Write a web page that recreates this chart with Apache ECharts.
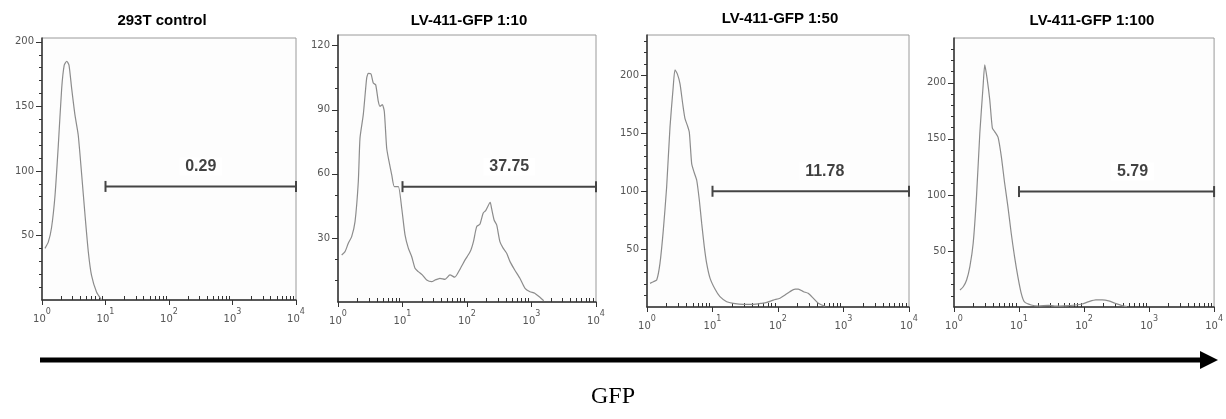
<!DOCTYPE html>
<html><head><meta charset="utf-8">
<script src="https://cdn.jsdelivr.net/npm/echarts@6/dist/echarts.min.js"></script>
<style>html,body{margin:0;padding:0;background:#fff}#c{width:1226px;height:419px}</style>
</head><body><div id="c"></div>
<script>
// ---------- data ----------
const panelTitles = ['293T control', 'LV-411-GFP 1:10', 'LV-411-GFP 1:50', 'LV-411-GFP 1:100'];
const gatePercents = ['0.29', '37.75', '11.78', '5.79'];
const gateFrom = [1, 1, 1, 1];          // log10 GFP (10^1)
const gateTo = [4, 4, 4, 4];            // log10 GFP (10^4)
const gateLevels = [88, 54, 100, 103];  // count level of the gate bar
const xDecades = [0, 1, 2, 3, 4];       // tick labels 10^0 .. 10^4
const yMax = [203, 125, 235, 240];
const yStep = [50, 30, 50, 50];
const yTicks1 = [50, 100, 150, 200];
const yTicks2 = [30, 60, 90, 120];
const yTicks3 = [50, 100, 150, 200];
const yTicks4 = [50, 100, 150, 200];
const axisTitle = 'GFP';

// histogram: x = log10(GFP), y = count
const ctrlLogGFP = [0.047, 0.10, 0.15, 0.205, 0.257, 0.31, 0.35, 0.39, 0.425, 0.467, 0.52, 0.57, 0.625, 0.677, 0.73, 0.78, 0.86, 0.94];
const ctrlCount  = [40, 45, 56, 81, 120, 164, 182, 185, 182, 164, 143, 128, 97, 66, 37, 19, 6, 0];

const lv10LogGFP = [0.057, 0.109, 0.16, 0.212, 0.264, 0.315, 0.341, 0.392, 0.445, 0.47, 0.512, 0.547, 0.584, 0.625, 0.651, 0.687, 0.718, 0.755, 0.791, 0.833, 0.873, 0.935, 0.988, 1.039, 1.09, 1.143, 1.194, 1.245, 1.307, 1.375, 1.453, 1.504, 1.581, 1.659, 1.736, 1.81, 1.89, 1.97, 2.05, 2.1, 2.15, 2.2, 2.25, 2.29, 2.36, 2.38, 2.42, 2.46, 2.51, 2.56, 2.615, 2.667, 2.74, 2.82, 2.9, 2.977, 3.05, 3.13, 3.19];
const lv10Count  = [22, 23.6, 27.5, 30.6, 37.6, 56.4, 76.7, 87.7, 104.9, 107, 106.7, 102.5, 101.7, 93.9, 91.6, 92.4, 89.2, 72, 65.8, 59.5, 54, 54, 43.9, 31.4, 25.2, 21.2, 15.8, 14.2, 12.7, 10.3, 9.5, 10.3, 11.1, 10.6, 12.7, 11.6, 15.3, 19.7, 23.6, 28.3, 35.3, 36.4, 41.6, 42.8, 46.6, 43.9, 38.4, 36.1, 28.3, 25.2, 22.8, 18.9, 15, 11.1, 6.4, 4.8, 4.1, 2.2, 0.6];

const lv50LogGFP = [0.046, 0.096, 0.148, 0.198, 0.249, 0.30, 0.351, 0.40, 0.427, 0.463, 0.504, 0.545, 0.58, 0.616, 0.646, 0.682, 0.718, 0.759, 0.799, 0.835, 0.875, 0.911, 0.962, 1.04, 1.114, 1.217, 1.318, 1.47, 1.62, 1.75, 1.83, 1.93, 2.03, 2.107, 2.18, 2.26, 2.31, 2.39, 2.46, 2.54, 2.615, 2.67, 2.72];
const lv50Count  = [20.4, 21.8, 23.3, 37.7, 66.4, 103.7, 155.4, 190, 204.9, 201.4, 192.8, 175.6, 162.7, 156.9, 151.1, 123.9, 116.6, 109.5, 92.2, 72.2, 52, 37.7, 25, 15.3, 8.9, 4.6, 3.2, 2.3, 2.3, 3.2, 4, 6, 7.5, 10.3, 13.2, 15.5, 15.5, 13.2, 11.8, 7.5, 3.2, 1.7, 0.5];

const lv100LogGFP = [0.092, 0.142, 0.194, 0.244, 0.295, 0.346, 0.397, 0.447, 0.473, 0.508, 0.55, 0.59, 0.626, 0.677, 0.728, 0.779, 0.829, 0.88, 0.931, 0.982, 1.034, 1.084, 1.186, 1.3, 1.45, 1.55, 1.7, 1.87, 1.97, 2.076, 2.18, 2.28, 2.38, 2.48, 2.585, 2.66];
const lv100Count  = [15.2, 18.1, 24.1, 36, 56.9, 98.5, 155, 196.7, 216, 204.2, 184.8, 159.6, 156.5, 151.5, 134.2, 110.4, 89.6, 65.8, 44.9, 27.1, 12.2, 4.5, 1.8, 0.9, 1.5, 0.8, 1, 1.8, 2.7, 4.8, 6.3, 6.3, 5.4, 3.3, 1.2, 0.3];

// ---------- layout / style ----------
const grids = [
  {left: 42, top: 38, width: 254, height: 262},
  {left: 338, top: 35, width: 258, height: 267},
  {left: 647, top: 35, width: 262, height: 272},
  {left: 954, top: 38, width: 262, height: 269}
];
const titlePos = [[162, 21], [469, 21], [780, 19], [1092, 21]];
const gateLabelOffset = [0, 10, 14, 16];
const minorSplit = [5, 3, 5, 5];
const yTickSets = [yTicks1, yTicks2, yTicks3, yTicks4];
const hist = [[ctrlLogGFP, ctrlCount], [lv10LogGFP, lv10Count], [lv50LogGFP, lv50Count], [lv100LogGFP, lv100Count]];

const minorX = [];
for (let d = 0; d < 4; d++) for (let k = 2; k <= 9; k++) minorX.push(d + Math.log10(k));

const axisColor = '#333';
const labelColor = '#555';
const gridOpt = [], xAxes = [], yAxes = [], series = [], graphics = [];

grids.forEach((g, i) => {
  gridOpt.push(Object.assign({show: true, borderColor: '#9a9a9a', borderWidth: 1, backgroundColor: '#fdfdfd'}, g));
  xAxes.push({
    gridIndex: i, type: 'value', min: 0, max: 4, interval: 1, position: 'bottom',
    axisLine: {show: true, lineStyle: {color: axisColor, width: 1.5}},
    axisTick: {show: true, length: 5, lineStyle: {color: axisColor}},
    splitLine: {show: false},
    axisLabel: {
      customValues: xDecades, margin: 8, color: labelColor,
      formatter: v => '{b|10}{s|' + v + '}',
      rich: {
        b: {fontSize: 10, fontFamily: 'DejaVu Sans', color: labelColor, lineHeight: 16, verticalAlign: 'bottom'},
        s: {fontSize: 8, fontFamily: 'DejaVu Sans', color: labelColor, lineHeight: 16, verticalAlign: 'top'}
      }
    }
  });
  xAxes.push({
    gridIndex: i, type: 'value', min: 0, max: 4, position: 'bottom',
    axisLine: {show: false},
    axisTick: {show: true, inside: true, length: 4, customValues: minorX, lineStyle: {color: axisColor}},
    axisLabel: {show: false}, splitLine: {show: false}
  });
  yAxes.push({
    gridIndex: i, type: 'value', min: 0, max: yMax[i], interval: yStep[i],
    axisLine: {show: true, lineStyle: {color: axisColor, width: 1.5}},
    axisTick: {show: true, length: 6, customValues: yTickSets[i], lineStyle: {color: axisColor}},
    minorTick: {show: true, splitNumber: minorSplit[i], length: 3, lineStyle: {color: axisColor}},
    splitLine: {show: false},
    axisLabel: {customValues: yTickSets[i], fontSize: 10, fontFamily: 'DejaVu Sans', color: labelColor, margin: 8}
  });
  const [xs, ys] = hist[i];
  series.push({
    type: 'line', xAxisIndex: 2 * i, yAxisIndex: i, showSymbol: false, smooth: 0.2,
    data: xs.map((x, j) => [x, ys[j]]),
    lineStyle: {color: '#8c8c8c', width: 1.2}, animation: false, silent: true
  });
  series.push({
    type: 'line', xAxisIndex: 2 * i, yAxisIndex: i,
    data: [[gateFrom[i], gateLevels[i]], [gateTo[i], gateLevels[i]]],
    symbol: 'rect', symbolSize: [2, 11], showSymbol: true,
    itemStyle: {color: '#444'}, lineStyle: {color: '#444', width: 2},
    animation: false, silent: true
  });
  series.push({
    type: 'scatter', xAxisIndex: 2 * i, yAxisIndex: i, symbolSize: 0,
    data: [[(gateFrom[i] + gateTo[i]) / 2, gateLevels[i]]],
    label: {
      show: true, position: 'top', distance: 11, offset: [gateLabelOffset[i], 0],
      formatter: gatePercents[i], fontSize: 16, fontWeight: 'bold',
      fontFamily: 'Liberation Sans, Arial', color: '#111',
      backgroundColor: '#fff', padding: [1, 6]
    },
    animation: false, silent: true
  });
  graphics.push({
    type: 'text', x: titlePos[i][0], y: titlePos[i][1],
    style: {text: panelTitles[i], font: 'bold 15px "Liberation Sans", Arial', fill: '#000',
            textAlign: 'center', textVerticalAlign: 'middle', align: 'center', verticalAlign: 'middle'}
  });
});

graphics.push({type: 'line', shape: {x1: 40, y1: 360, x2: 1203, y2: 360}, style: {stroke: '#000', lineWidth: 5}});
graphics.push({type: 'polygon', shape: {points: [[1200, 351], [1218, 360], [1200, 369]]}, style: {fill: '#000'}});
graphics.push({
  type: 'text', x: 613, y: 397,
  style: {text: axisTitle, font: '24px "Liberation Serif", "Times New Roman", serif', fill: '#000',
          textAlign: 'center', textVerticalAlign: 'middle', align: 'center', verticalAlign: 'middle'}
});

const chart = echarts.init(document.getElementById('c'), null, {renderer: 'canvas'});
chart.setOption({
  animation: false,
  grid: gridOpt, xAxis: xAxes, yAxis: yAxes, series: series, graphic: graphics
});
</script>
</body></html>
